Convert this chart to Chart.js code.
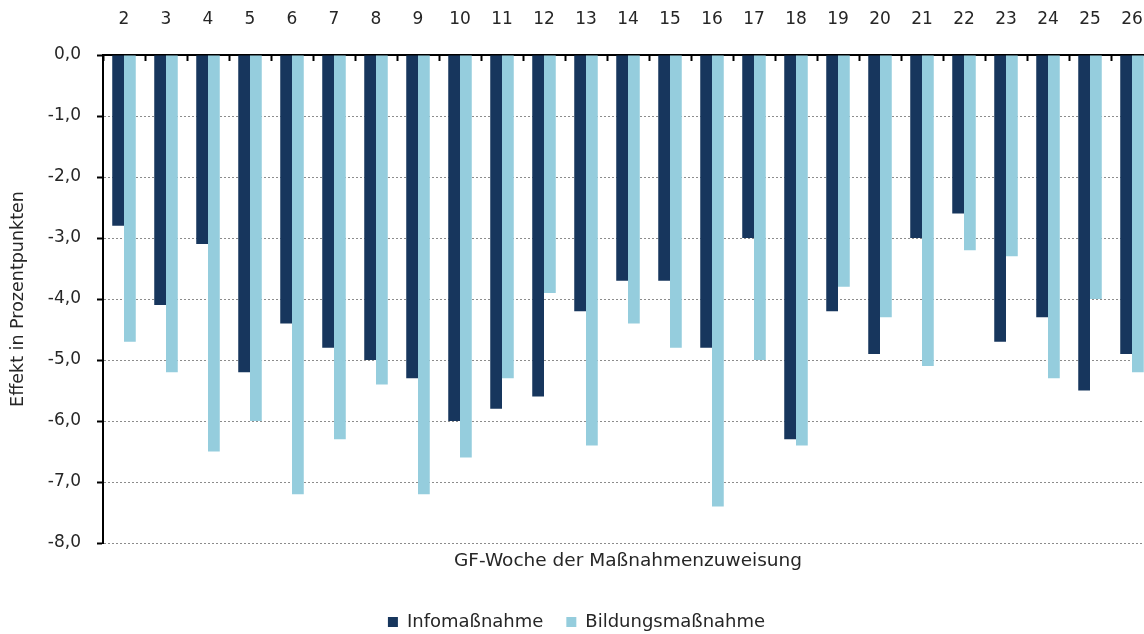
<!DOCTYPE html>
<html><head><meta charset="utf-8">
<script src="https://cdn.jsdelivr.net/npm/chart.js@4.4.0/dist/chart.umd.min.js"></script>
<style>
html,body{margin:0;padding:0;overflow:hidden;background:#fff;width:1144px;height:634px}
#wrap{width:1164px;height:634px;position:relative}
</style>
</head><body><div id="wrap"><canvas id="c" width="1164" height="634"></canvas></div>
<script>
const categories = ['2','3','4','5','6','7','8','9','10','11','12','13','14','15','16','17','18','19','20','21','22','23','24','25','26'];
const infoValues = [-2.8,-4.1,-3.1,-5.2,-4.4,-4.8,-5.0,-5.3,-6.0,-5.8,-5.6,-4.2,-3.7,-3.7,-4.8,-3.0,-6.3,-4.2,-4.9,-3.0,-2.6,-4.7,-4.3,-5.5,-4.9];
const bildungValues = [-4.7,-5.2,-6.5,-6.0,-7.2,-6.3,-5.4,-7.2,-6.6,-5.3,-3.9,-6.4,-4.4,-4.8,-7.4,-5.0,-6.4,-3.8,-4.3,-5.1,-3.2,-3.3,-5.3,-4.0,-5.2];
const seriesNames = ['Infomaßnahme','Bildungsmaßnahme'];
const yMin = -8, yMax = 0, yStep = 1;
const xTitle = 'GF-Woche der Maßnahmenzuweisung';
const yTitle = 'Effekt in Prozentpunkten';

const FONT = 'DejaVu Sans';
const TXT = '#262626';

const legendHeightPlugin = {
  id: 'legendHeight',
  beforeUpdate(chart) {
    const lg = chart.legend;
    if (lg && !lg._patched) {
      const orig = lg.fit;
      lg.fit = function () { orig.call(this); this.height = 44; };
      lg._patched = true;
    }
  }
};

new Chart(document.getElementById('c'), {
  type: 'bar',
  data: {
    labels: categories,
    datasets: [
      {label: seriesNames[0], data: infoValues, backgroundColor: '#17365D', borderWidth: 0},
      {label: seriesNames[1], data: bildungValues, backgroundColor: '#95CDDD', borderWidth: 0}
    ]
  },
  plugins: [legendHeightPlugin],
  options: {
    responsive: false,
    animation: false,
    layout: {padding: {left: 0, right: 11, top: 0, bottom: 0}},
    datasets: {bar: {categoryPercentage: 0.56, barPercentage: 1.0}},
    plugins: {
      tooltip: {enabled: false},
      legend: {
        position: 'bottom',
        labels: {boxWidth: 10, boxHeight: 10, padding: 23, color: TXT, font: {family: FONT, size: 18}}
      }
    },
    scales: {
      x: {
        type: 'category',
        position: 'top',
        afterFit: (s) => { s.height = 55; s.paddingLeft = 0; s.paddingRight = 0; },
        grid: {drawOnChartArea: false, tickLength: -6, tickColor: '#000', tickWidth: 2},
        border: {color: '#000', width: 2},
        ticks: {color: TXT, font: {family: FONT, size: 17}, padding: 31, maxRotation: 0, autoSkip: false}
      },
      x2: {
        type: 'category',
        position: 'bottom',
        afterFit: (s) => { s.height = 47; s.paddingLeft = 0; s.paddingRight = 0; },
        grid: {display: false},
        border: {display: false},
        ticks: {display: false},
        title: {display: true, text: xTitle, color: TXT, font: {family: FONT, size: 18.5}, padding: {top: 0, bottom: 18}}
      },
      y: {
        min: yMin, max: yMax,
        afterFit: (s) => { s.width = 103; },
        grid: {
          color: (ctx) => ctx.tick && ctx.tick.value === 0 ? 'rgba(0,0,0,0)' : '#8c8c8c',
          tickColor: '#000', tickLength: 6, tickWidth: 2, lineWidth: 1
        },
        border: {color: '#000', width: 2, dash: [2, 2]},
        ticks: {
          stepSize: yStep, color: TXT, font: {family: FONT, size: 17}, padding: 16,
          callback: (v) => v.toFixed(1).replace('.', ',')
        },
        title: {display: true, text: yTitle, color: TXT, font: {family: FONT, size: 17.5}, padding: {top: 8, bottom: 0}}
      }
    }
  }
});
</script>
</body></html>
